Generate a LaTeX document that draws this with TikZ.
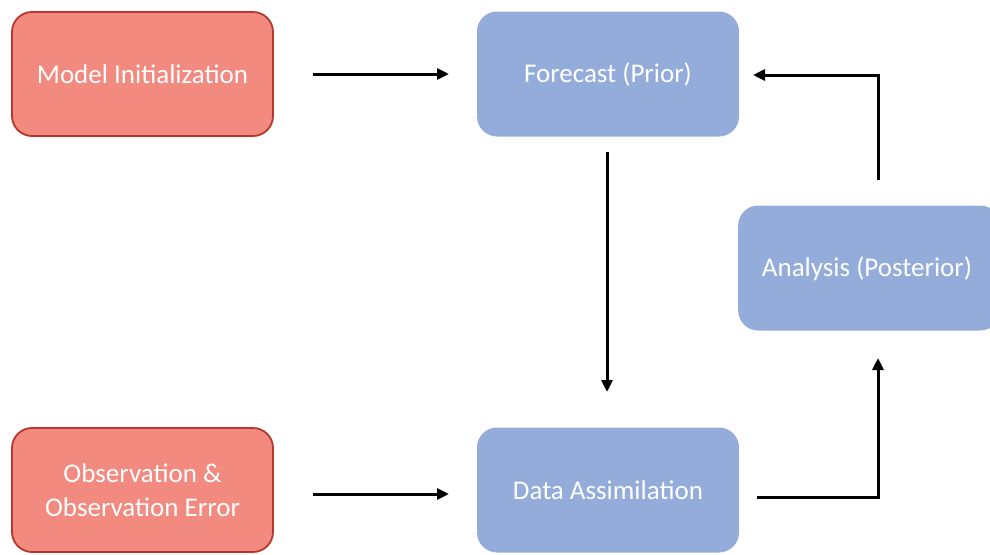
\documentclass[tikz,border=0pt]{standalone}
\usepackage{fontspec}
\setmainfont{Carlito}
\usetikzlibrary{arrows.meta}
\definecolor{redfill}{HTML}{F28A80}
\definecolor{redline}{HTML}{B8372C}
\definecolor{bluefill}{HTML}{94ACD9}
\begin{document}
\begin{tikzpicture}[x=1pt,y=-1pt,
  redbox/.style={draw=redline,line width=1.8pt,fill=redfill,rounded corners=20pt,minimum width=261pt,minimum height=124pt,text=white,font=\fontsize{27}{34}\selectfont,align=center,inner sep=0pt},
  bluebox/.style={fill=bluefill,rounded corners=20pt,minimum width=262pt,minimum height=125pt,text=white,font=\fontsize{27}{34}\selectfont,align=center,inner sep=0pt},
  conn/.style={line width=3pt,-{Triangle[length=12pt,width=11pt]}}]
\useasboundingbox (0,0) rectangle (990,554);
\clip (0,0) rectangle (990,554);
\node[redbox] (mi) at (142.5,74) {Model Initialization};
\node[redbox] (oe) at (142.5,490) {Observation \&\\Observation Error};
\node[bluebox] (fc) at (608,74) {Forecast (Prior)};
\node[bluebox] (da) at (608,490) {Data Assimilation};
\node[bluebox,anchor=west] (an) at (738,268) {\hspace*{0pt}};
\node[text=white,font=\fontsize{27}{34}\selectfont] (antext) at (867,269) {Analysis (Posterior)};
\coordinate (a1s) at (313,74);
\coordinate (a1e) at (449,74);
\coordinate (a2s) at (313,494);
\coordinate (a2e) at (449,494);
\coordinate (a3s) at (607,152);
\coordinate (a3e) at (607,392);
\coordinate (a4s) at (757,497);
\coordinate (a4c) at (878,497);
\coordinate (a4e) at (878,358);
\coordinate (a5s) at (878,180);
\coordinate (a5c) at (878,75);
\coordinate (a5e) at (753,75);
\draw[conn] (a1s) -- (a1e);
\draw[conn] (a2s) -- (a2e);
\draw[conn] (a3s) -- (a3e);
\draw[conn] (a4s) -- (a4c) -- (a4e);
\draw[conn] (a5s) -- (a5c) -- (a5e);
\end{tikzpicture}
\end{document}
